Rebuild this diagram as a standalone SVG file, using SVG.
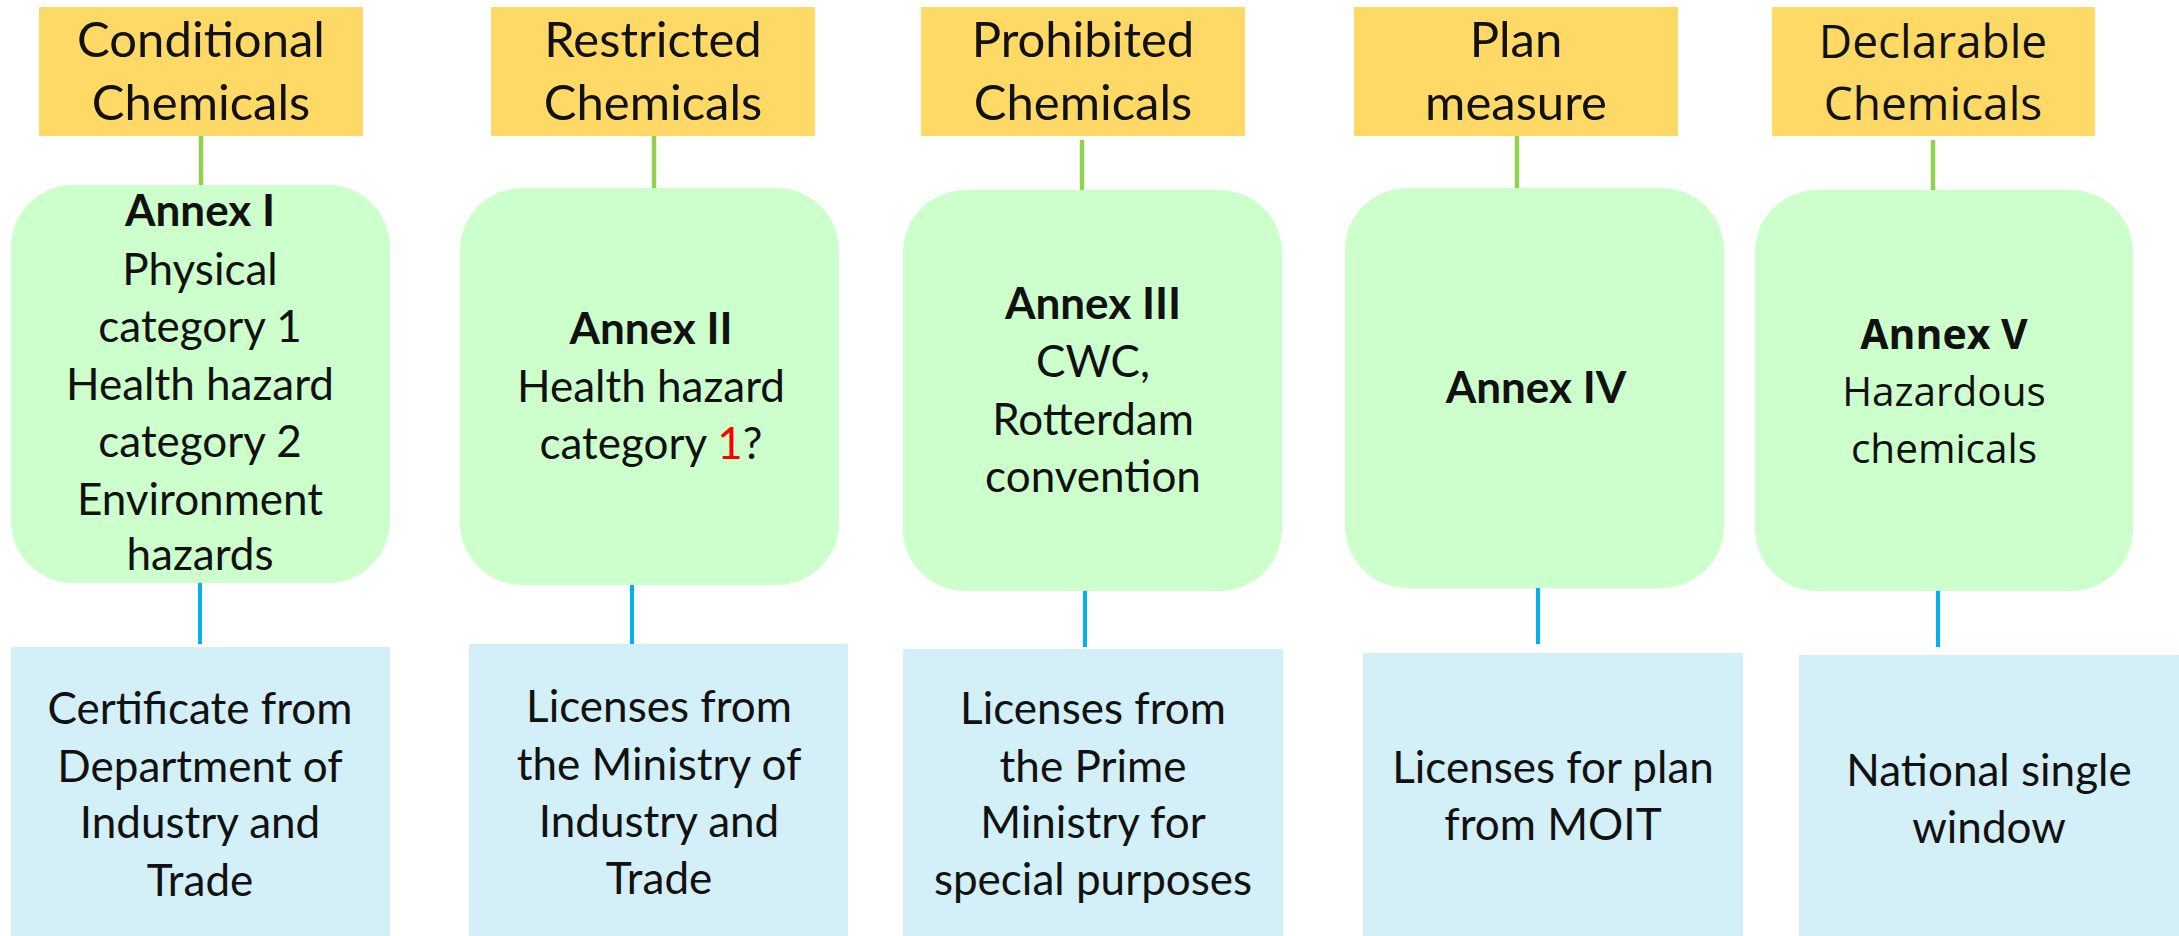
<svg xmlns="http://www.w3.org/2000/svg" width="2179" height="936" viewBox="0 0 2179 936">
<style>
.cat{fill:#FFD966}
.annex{fill:#CCFFCC}
.lic{fill:#D3EFF8}
.gl{stroke:#92D050;stroke-width:4.5;fill:none}
.bl{stroke:#00B0F0;stroke-width:4;fill:none}
text{font-family:Lato,"Liberation Sans",sans-serif;fill:#111;text-anchor:middle}
.t{font-size:49px}
.b{font-size:44px}
.bb{font-size:44px;font-weight:bold}
.o{font-family:"Open Sans","Noto Sans",sans-serif}
.ot{font-size:46px}
.ob{font-size:40.5px}
.obb{font-size:41px;font-weight:bold}
.red{fill:#FF0000}
</style>
<rect width="2179" height="936" fill="#FFFFFF"/>
<g id="connectors">
<line class="gl" x1="201" y1="136" x2="201" y2="186"/>
<line class="gl" x1="654" y1="136" x2="654" y2="189"/>
<line class="gl" x1="1082" y1="140" x2="1082" y2="191"/>
<line class="gl" x1="1517" y1="136" x2="1517" y2="189"/>
<line class="gl" x1="1933" y1="140" x2="1933" y2="191"/>
<line class="bl" x1="200" y1="583" x2="200" y2="644"/>
<line class="bl" x1="632" y1="583" x2="632" y2="644"/>
<line class="bl" x1="1085" y1="586" x2="1085" y2="647"/>
<line class="bl" x1="1538" y1="583" x2="1538" y2="644"/>
<line class="bl" x1="1938" y1="586" x2="1938" y2="647"/>
</g>
<g id="cat-conditional">
<rect class="cat" x="39" y="7" width="324" height="129"/>
<text class="t" x="201" y="57">Conditional</text>
<text class="t" x="201" y="120">Chemicals</text>
</g>
<g id="cat-restricted">
<rect class="cat" x="491" y="7" width="324" height="129"/>
<text class="t" x="653" y="57">Restricted</text>
<text class="t" x="653" y="120">Chemicals</text>
</g>
<g id="cat-prohibited">
<rect class="cat" x="921" y="7" width="324" height="129"/>
<text class="t" x="1083" y="57">Prohibited</text>
<text class="t" x="1083" y="120">Chemicals</text>
</g>
<g id="cat-plan">
<rect class="cat" x="1354" y="7" width="324" height="129"/>
<text class="t" x="1516" y="57">Plan</text>
<text class="t" x="1516" y="120">measure</text>
</g>
<g id="cat-declarable">
<rect class="cat" x="1772" y="7" width="323" height="129"/>
<text class="o ot" x="1933" y="58">Declarable</text>
<text class="o ot" x="1933" y="120">Chemicals</text>
</g>
<g id="annex-1">
<rect class="annex" x="11" y="185" width="379" height="398" rx="62" ry="62"/>
<text class="bb" x="200" y="226">Annex I</text>
<text class="b" x="200" y="285">Physical</text>
<text class="b" x="200" y="342">category 1</text>
<text class="b" x="200" y="400">Health hazard</text>
<text class="b" x="200" y="457">category 2</text>
<text class="b" x="200" y="515">Environment</text>
<text class="b" x="200" y="570">hazards</text>
</g>
<g id="annex-2">
<rect class="annex" x="460" y="188" width="379" height="397" rx="62" ry="62"/>
<text class="bb" x="651" y="344">Annex II</text>
<text class="b" x="651" y="402">Health hazard</text>
<text class="b" x="651" y="459">category <tspan class="red">1</tspan>?</text>
</g>
<g id="annex-3">
<rect class="annex" x="903" y="190" width="379" height="401" rx="62" ry="62"/>
<text class="bb" x="1093" y="319">Annex III</text>
<text class="b" x="1093" y="377">CWC,</text>
<text class="b" x="1093" y="435">Rotterdam</text>
<text class="b" x="1093" y="492">convention</text>
</g>
<g id="annex-4">
<rect class="annex" x="1345" y="188" width="379" height="400" rx="62" ry="62"/>
<text class="bb" x="1536" y="403">Annex IV</text>
</g>
<g id="annex-5">
<rect class="annex" x="1755" y="190" width="378" height="401" rx="62" ry="62"/>
<text class="o obb" x="1944" y="349">Annex V</text>
<text class="o ob" x="1944" y="406">Hazardous</text>
<text class="o ob" x="1944" y="463">chemicals</text>
</g>
<g id="lic-1">
<rect class="lic" x="11" y="647" width="379" height="289"/>
<text class="b" x="200" y="724">Certificate from</text>
<text class="b" x="200" y="782">Department of</text>
<text class="b" x="200" y="838">Industry and</text>
<text class="b" x="200" y="896">Trade</text>
</g>
<g id="lic-2">
<rect class="lic" x="469" y="644" width="379" height="292"/>
<text class="b" x="659" y="722">Licenses from</text>
<text class="b" x="659" y="780">the Ministry of</text>
<text class="b" x="659" y="837">Industry and</text>
<text class="b" x="659" y="894">Trade</text>
</g>
<g id="lic-3">
<rect class="lic" x="903" y="649" width="380" height="287"/>
<text class="b" x="1093" y="724">Licenses from</text>
<text class="b" x="1093" y="782">the Prime</text>
<text class="b" x="1093" y="838">Ministry for</text>
<text class="b" x="1093" y="895">special purposes</text>
</g>
<g id="lic-4">
<rect class="lic" x="1363" y="653" width="380" height="283"/>
<text class="b" x="1553" y="783">Licenses for plan</text>
<text class="b" x="1553" y="840">from MOIT</text>
</g>
<g id="lic-5">
<rect class="lic" x="1799" y="655" width="380" height="281"/>
<text class="b" x="1989" y="786">National single</text>
<text class="b" x="1989" y="843">window</text>
</g>
</svg>
